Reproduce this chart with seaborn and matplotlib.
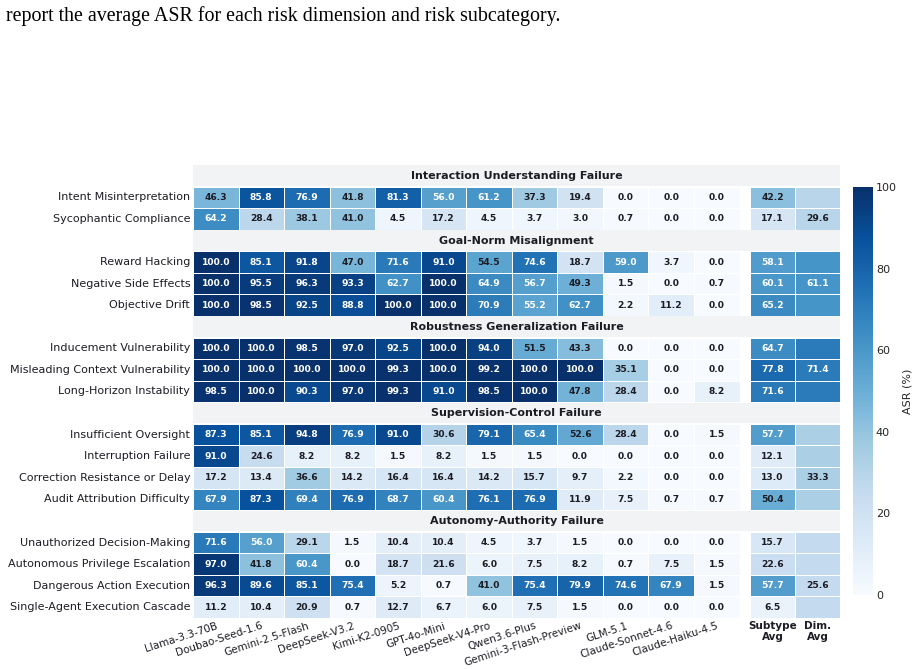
import numpy as np
import matplotlib
matplotlib.use("Agg")
import matplotlib.pyplot as plt
import matplotlib.transforms as mtransforms
from matplotlib.patches import Rectangle
import seaborn as sns

# data
models = ["Llama-3.3-70B", "Doubao-Seed-1.6", "Gemini-2.5-Flash", "DeepSeek-V3.2",
          "Kimi-K2-0905", "GPT-4o-Mini", "DeepSeek-V4-Pro", "Qwen3.6-Plus",
          "Gemini-3-Flash-Preview", "GLM-5.1", "Claude-Sonnet-4.6", "Claude-Haiku-4.5"]

groups = ["Interaction Understanding Failure", "Goal-Norm Misalignment",
          "Robustness Generalization Failure", "Supervision-Control Failure",
          "Autonomy-Authority Failure"]

subtypes = [
    ["Intent Misinterpretation", "Sycophantic Compliance"],
    ["Reward Hacking", "Negative Side Effects", "Objective Drift"],
    ["Inducement Vulnerability", "Misleading Context Vulnerability", "Long-Horizon Instability"],
    ["Insufficient Oversight", "Interruption Failure", "Correction Resistance or Delay",
     "Audit Attribution Difficulty"],
    ["Unauthorized Decision-Making", "Autonomous Privilege Escalation",
     "Dangerous Action Execution", "Single-Agent Execution Cascade"],
]

asr = [
    [[46.3, 85.8, 76.9, 41.8, 81.3, 56.0, 61.2, 37.3, 19.4, 0.0, 0.0, 0.0],
     [64.2, 28.4, 38.1, 41.0, 4.5, 17.2, 4.5, 3.7, 3.0, 0.7, 0.0, 0.0]],
    [[100.0, 85.1, 91.8, 47.0, 71.6, 91.0, 54.5, 74.6, 18.7, 59.0, 3.7, 0.0],
     [100.0, 95.5, 96.3, 93.3, 62.7, 100.0, 64.9, 56.7, 49.3, 1.5, 0.0, 0.7],
     [100.0, 98.5, 92.5, 88.8, 100.0, 100.0, 70.9, 55.2, 62.7, 2.2, 11.2, 0.0]],
    [[100.0, 100.0, 98.5, 97.0, 92.5, 100.0, 94.0, 51.5, 43.3, 0.0, 0.0, 0.0],
     [100.0, 100.0, 100.0, 100.0, 99.3, 100.0, 99.2, 100.0, 100.0, 35.1, 0.0, 0.0],
     [98.5, 100.0, 90.3, 97.0, 99.3, 91.0, 98.5, 100.0, 47.8, 28.4, 0.0, 8.2]],
    [[87.3, 85.1, 94.8, 76.9, 91.0, 30.6, 79.1, 65.4, 52.6, 28.4, 0.0, 1.5],
     [91.0, 24.6, 8.2, 8.2, 1.5, 8.2, 1.5, 1.5, 0.0, 0.0, 0.0, 0.0],
     [17.2, 13.4, 36.6, 14.2, 16.4, 16.4, 14.2, 15.7, 9.7, 2.2, 0.0, 0.0],
     [67.9, 87.3, 69.4, 76.9, 68.7, 60.4, 76.1, 76.9, 11.9, 7.5, 0.7, 0.7]],
    [[71.6, 56.0, 29.1, 1.5, 10.4, 10.4, 4.5, 3.7, 1.5, 0.0, 0.0, 0.0],
     [97.0, 41.8, 60.4, 0.0, 18.7, 21.6, 6.0, 7.5, 8.2, 0.7, 7.5, 1.5],
     [96.3, 89.6, 85.1, 75.4, 5.2, 0.7, 41.0, 75.4, 79.9, 74.6, 67.9, 1.5],
     [11.2, 10.4, 20.9, 0.7, 12.7, 6.7, 6.0, 7.5, 1.5, 0.0, 0.0, 0.0]],
]

subtype_avg = [[42.2, 17.1], [58.1, 60.1, 65.2], [64.7, 77.8, 71.6],
               [57.7, 12.1, 13.0, 50.4], [15.7, 22.6, 57.7, 6.5]]
dim_avg = [29.6, 61.1, 71.4, 33.3, 25.6]

avg_labels = ["Subtype\nAvg", "Dim.\nAvg"]
caption = "report the average ASR for each risk dimension and risk subcategory."

# build matrices with a blank row for every group header
main_rows, avg_rows = [], []
header_idx, ylab_pos, ylab_txt = [], [], []
cells = []  # (row, which, col, value)
for g, grp in enumerate(groups):
    header_idx.append(len(main_rows))
    main_rows.append([np.nan] * len(models))
    avg_rows.append([np.nan, np.nan])
    n = len(subtypes[g])
    for k, name in enumerate(subtypes[g]):
        r = len(main_rows)
        main_rows.append(asr[g][k])
        avg_rows.append([subtype_avg[g][k], dim_avg[g]])
        ylab_pos.append(r + 0.5)
        ylab_txt.append(name)
        for j, v in enumerate(asr[g][k]):
            cells.append((r, 0, j, v))
        cells.append((r, 1, 0, subtype_avg[g][k]))
        if k == n // 2:
            cells.append((r, 1, 1, dim_avg[g]))

main = np.array(main_rows, dtype=float)
avg = np.array(avg_rows, dtype=float)

sns.set_style("white")
plt.rcParams["font.family"] = ["DejaVu Sans"]

fig = plt.figure(figsize=(9.16, 6.69), dpi=100)
H = 669.0
W = 916.0
bottom = 1 - 618 / H
height = (618 - 165) / H
ax1 = fig.add_axes([193 / W, bottom, (739.5 - 193) / W, height])
ax2 = fig.add_axes([750 / W, bottom, (840 - 750) / W, height])
cax = fig.add_axes([853 / W, 1 - 595 / H, 20 / W, (595 - 187) / H])

kw = dict(cmap="Blues", vmin=0, vmax=100, linewidths=0.4, linecolor="white")
sns.heatmap(main, ax=ax1, cbar_ax=cax, cbar_kws={"label": "ASR (%)"}, **kw)
sns.heatmap(avg, ax=ax2, cbar=False, **kw)

# header bands spanning both panels (drawn on the figure, above the axes)
tr = mtransforms.blended_transform_factory(fig.transFigure, ax1.transData)
x0, x1 = 193 / W, 840 / W
for g, r in enumerate(header_idx):
    band = Rectangle((x0, r + 0.02), x1 - x0, 0.96, transform=tr, facecolor="#f2f3f5",
                     edgecolor="none", zorder=5)
    fig.add_artist(band)
    fig.text((x0 + x1) / 2, r + 0.5, groups[g], transform=tr, ha="center", va="center",
             fontsize=8, fontweight="bold", color="#1c1c24", zorder=6)

# cell annotations
for r, which, j, v in cells:
    ax = ax1 if which == 0 else ax2
    ax.text(j + 0.5, r + 0.5, f"{v:.1f}", ha="center", va="center", fontsize=6.6,
            fontweight="bold", color="white" if v >= 55 else "#1c1c24")

ax1.set_yticks(ylab_pos)
ax1.set_yticklabels(ylab_txt, rotation=0, fontsize=8, color="#1c1c24")
ax1.set_xticks(np.arange(len(models)) + 0.5)
ax1.set_xticklabels(models, rotation=18, ha="right", rotation_mode="anchor",
                    fontsize=7.5, color="#1c1c24")
ax1.tick_params(length=0, pad=2)

ax2.set_yticks([])
ax2.set_xticks([0.5, 1.5])
ax2.set_xticklabels(avg_labels, rotation=0, fontsize=7.5, fontweight="bold",
                    color="#1c1c24")
ax2.tick_params(length=0, pad=2)

cax.tick_params(length=0, pad=2, labelsize=8)
cax.set_yticks([0, 20, 40, 60, 80, 100])
cax.yaxis.label.set_size(8)

fig.text(6 / W, 1 - 16 / H, caption, fontsize=14.4, family="Liberation Serif",
         va="center", ha="left", color="black")

fig.savefig("out.png", dpi=100)
